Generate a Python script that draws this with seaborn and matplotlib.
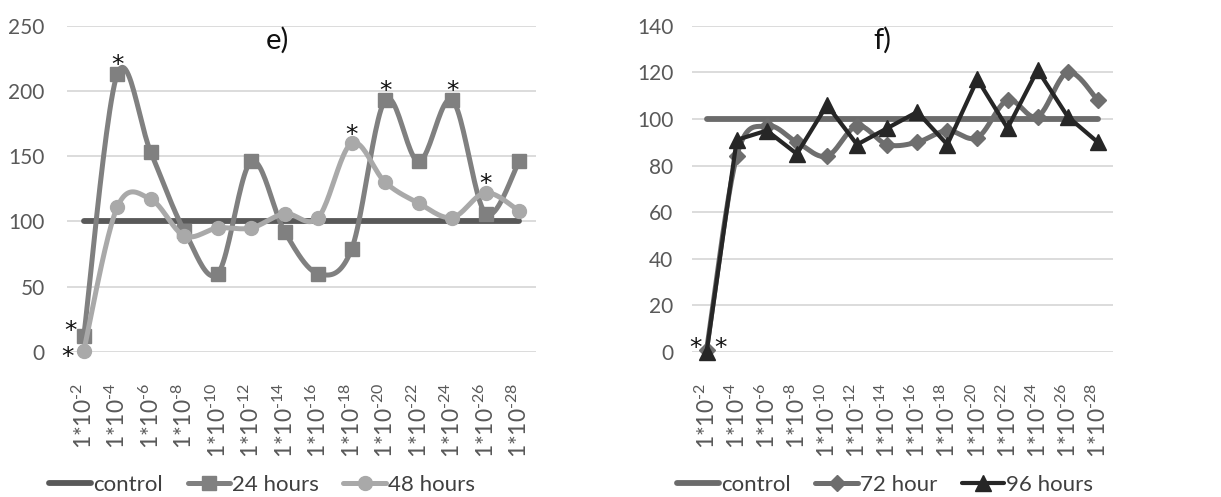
import numpy as np
import pandas as pd
import matplotlib
matplotlib.use("Agg")
import matplotlib.pyplot as plt
import seaborn as sns
from matplotlib.lines import Line2D

# ---------------- data ----------------
exponents = [2, 4, 6, 8, 10, 12, 14, 16, 18, 20, 22, 24, 26, 28]
tick_labels = [f"1*10$^{{\\text{{-{e}}}}}$" for e in exponents]

control_e = [100, 100, 100, 100, 100, 100, 100, 100, 100, 100, 100, 100, 100, 100]
hours_24 = [12, 213, 153, 93, 60, 146, 92, 60, 79, 193, 146, 193, 106, 146]
hours_48 = [1, 111, 117, 89, 95, 95, 106, 103, 160, 130, 114, 103, 122, 108]

control_f = [100, 100, 100, 100, 100, 100, 100, 100, 100, 100, 100, 100, 100, 100]
hour_72 = [1, 84, 97, 90, 84, 97, 89, 90, 95, 92, 108, 101, 120, 108]
hours_96 = [0, 91, 95, 85, 106, 89, 96, 103, 89, 117, 96, 121, 101, 90]

# significance marks (category index) placed above points
sig_24_above = [1, 9, 11]
sig_48_above = [8, 12]

# ---------------- style ----------------
sns.set_theme(style="white")
plt.rcParams["font.family"] = ["Lato", "DejaVu Sans"]
plt.rcParams["mathtext.fontset"] = "custom"
plt.rcParams["mathtext.rm"] = "Lato"
plt.rcParams["mathtext.it"] = "Lato:italic"
plt.rcParams["mathtext.bf"] = "Lato:bold"

TXT = "#595959"
GRID = "#d9d9d9"
STAR = dict(fontsize=18, color="#111111", family="DejaVu Sans", ha="center", va="baseline")


def smooth(xv, yv, n=24):
    """Catmull-Rom curve through the data points (Excel-like smoothed line)."""
    x = np.asarray(xv, float)
    y = np.asarray(yv, float)
    P = np.column_stack([x, y])
    P = np.vstack([P[0], P, P[-1]])
    out = []
    t = np.linspace(0, 1, n, endpoint=False)[:, None]
    for i in range(1, len(P) - 2):
        p0, p1, p2, p3 = P[i - 1], P[i], P[i + 1], P[i + 2]
        seg = 0.5 * (2 * p1 + (-p0 + p2) * t + (2 * p0 - 5 * p1 + 4 * p2 - p3) * t ** 2
                     + (-p0 + 3 * p1 - 3 * p2 + p3) * t ** 3)
        out.append(seg)
    out.append(P[-2][None, :])
    S = np.vstack(out)
    return S[:, 0], S[:, 1]


fig = plt.figure(figsize=(12.21, 4.97), dpi=100)
axL = fig.add_axes([0.0549, 0.2918, 0.384, 0.6565])
axR = fig.add_axes([0.5664, 0.2918, 0.345, 0.6565])

xpos = np.arange(len(exponents))


def draw_series(ax, vals, color, lw, marker, ms, smooth_it, z):
    if smooth_it:
        sx, sy = smooth(xpos, vals)
    else:
        sx, sy = xpos, np.asarray(vals, float)
    df = pd.DataFrame({"x": sx, "y": sy})
    sns.lineplot(data=df, x="x", y="y", ax=ax, color=color, lw=lw, sort=False,
                 estimator=None, zorder=z)
    if marker is not None:
        ax.plot(xpos, vals, linestyle="none", marker=marker, ms=ms, color=color,
                mec=color, zorder=z + 0.1, clip_on=False)


def style_axes(ax, ymax, ystep, ypad):
    ax.set_xlim(-0.5, len(exponents) - 0.5)
    ax.set_ylim(0, ymax)
    ax.set_yticks(np.arange(0, ymax + 1, ystep))
    ax.set_xticks(xpos)
    ax.set_xticklabels(tick_labels, rotation=90, fontsize=16.5, color=TXT)
    ax.tick_params(axis="x", length=0, pad=22)
    ax.tick_params(axis="y", length=0, pad=ypad, labelsize=15, labelcolor=TXT)
    ax.grid(axis="y", color=GRID, lw=1.3)
    ax.grid(axis="x", visible=False)
    ax.set_axisbelow(True)
    for s in ax.spines.values():
        s.set_visible(False)
    ax.set_xlabel("")
    ax.set_ylabel("")


# ---------------- panel e ----------------
c_ctrl_e, c_24, c_48 = "#595959", "#808080", "#a9a9a9"
draw_series(axL, control_e, c_ctrl_e, 4.2, None, 0, False, 2)
draw_series(axL, hours_24, c_24, 3.6, "s", 10.5, True, 3)
draw_series(axL, hours_48, c_48, 3.6, "o", 10, True, 4)
style_axes(axL, 250, 50, 16)

for i in sig_24_above:
    axL.annotate("*", (xpos[i], hours_24[i]), xytext=(0, 1.5), textcoords="offset points", **STAR)
for i in sig_48_above:
    axL.annotate("*", (xpos[i], hours_48[i]), xytext=(0, 1.0), textcoords="offset points", **STAR)
axL.annotate("*", (xpos[0], hours_24[0]), xytext=(-9.5, -1), textcoords="offset points", **STAR)
axL.annotate("*", (xpos[0], hours_48[0]), xytext=(-11.5, -9.5), textcoords="offset points", **STAR)
axL.text(0.448, 0.955, "e)", transform=axL.transAxes, ha="center", va="center",
         fontsize=21, color="#111111")

# ---------------- panel f ----------------
c_ctrl_f, c_72, c_96 = "#6b6b6b", "#6e6e6e", "#262626"
draw_series(axR, control_f, c_ctrl_f, 4.2, None, 0, False, 2)
draw_series(axR, hour_72, c_72, 3.6, "D", 8.5, True, 3)
draw_series(axR, hours_96, c_96, 3.0, "^", 11, False, 4)
style_axes(axR, 140, 20, 13)

axR.annotate("*", (xpos[0], hours_96[0]), xytext=(-8, -2), textcoords="offset points", **STAR)
axR.annotate("*", (xpos[0], hour_72[0]), xytext=(10, -3.5), textcoords="offset points", **STAR)
axR.text(0.452, 0.955, "f)", transform=axR.transAxes, ha="center", va="center",
         fontsize=21, color="#111111")

# ---------------- legends ----------------
hL = [Line2D([], [], color=c_ctrl_e, lw=4.2),
      Line2D([], [], color=c_24, lw=3.6, marker="s", ms=10),
      Line2D([], [], color=c_48, lw=3.6, marker="o", ms=10)]
fig.legend(hL, ["control", "24 hours", "48 hours"], loc="center",
           bbox_to_anchor=(262 / 1221, 1 - 485 / 497), ncol=3, frameon=False,
           fontsize=16, handlelength=1.9, handletextpad=0.1, columnspacing=1.1,
           labelcolor="#404040")

hR = [Line2D([], [], color=c_ctrl_f, lw=4.2),
      Line2D([], [], color=c_72, lw=3.6, marker="D", ms=8),
      Line2D([], [], color=c_96, lw=3.0, marker="^", ms=11)]
fig.legend(hR, ["control", "72 hour", "96 hours"], loc="center",
           bbox_to_anchor=(885 / 1221, 1 - 485 / 497), ncol=3, frameon=False,
           fontsize=16, handlelength=1.9, handletextpad=0.1, columnspacing=1.1,
           labelcolor="#404040")

fig.savefig("out.png", dpi=100, facecolor="white")
